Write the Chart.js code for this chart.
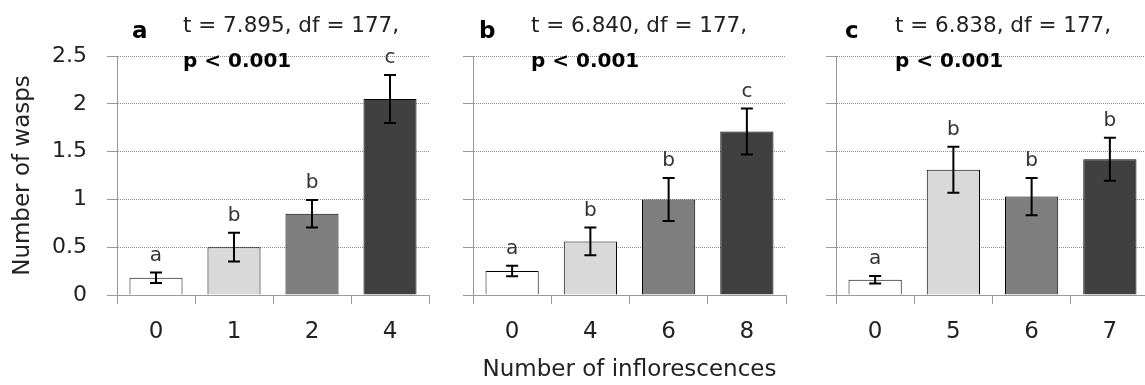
<!DOCTYPE html>
<html>
<head>
<meta charset="utf-8">
<script src="https://cdn.jsdelivr.net/npm/chart.js@4.4.1/dist/chart.umd.min.js"></script>
<style>
  html, body { margin: 0; padding: 0; background: #fff; overflow: hidden; }
  #wrap { position: relative; width: 1145px; height: 385px; overflow: hidden; }
  canvas { position: absolute; top: 0; }
</style>
</head>
<body>
<div id="wrap">
  <canvas id="pa" width="440" height="385" style="left:0px"></canvas>
  <canvas id="pb" width="357" height="385" style="left:440px"></canvas>
  <canvas id="pc" width="353" height="385" style="left:797px"></canvas>
</div>
<script>
// values
const catsA = ['0', '1', '2', '4'];
const meanA = [0.18, 0.50, 0.85, 2.05];
const errA = [0.055, 0.15, 0.145, 0.25];
const lettersA = ['a', 'b', 'b', 'c'];

const catsB = ['0', '4', '6', '8'];
const meanB = [0.25, 0.56, 1.00, 1.71];
const errB = [0.055, 0.145, 0.225, 0.24];
const lettersB = ['a', 'b', 'b', 'c'];

const catsC = ['0', '5', '6', '7'];
const meanC = [0.16, 1.31, 1.03, 1.42];
const errC = [0.04, 0.24, 0.195, 0.225];
const lettersC = ['a', 'b', 'b', 'b'];

const panelLabels = ['a', 'b', 'c'];
const tStats = ['t = 7.895, df = 177,', 't = 6.840, df = 177,', 't = 6.838, df = 177,'];
const pText = 'p < 0.001';
const yTicks = [0, 0.5, 1, 1.5, 2, 2.5];

const barColors = ['#ffffff', '#d9d9d9', '#7f7f7f', '#404040'];
const FONT = '"DejaVu Sans", sans-serif';

// error bars + significance letters + panel heading
const extras = {
  id: 'extras',
  afterDatasetsDraw(chart, args, opts) {
    const ctx = chart.ctx;
    const y = chart.scales.y;
    const meta = chart.getDatasetMeta(0);
    ctx.save();
    ctx.strokeStyle = '#000';
    ctx.lineWidth = 2;
    opts.means.forEach((m, i) => {
      const x = meta.data[i].x;
      const hi = y.getPixelForValue(m + opts.errs[i]);
      const lo = y.getPixelForValue(m - opts.errs[i]);
      ctx.beginPath();
      ctx.moveTo(x, hi); ctx.lineTo(x, lo);
      ctx.moveTo(x - 6, hi); ctx.lineTo(x + 6, hi);
      ctx.moveTo(x - 6, lo); ctx.lineTo(x + 6, lo);
      ctx.stroke();
      ctx.fillStyle = '#333';
      ctx.font = '20px ' + FONT;
      ctx.textAlign = 'center';
      ctx.textBaseline = 'middle';
      ctx.fillText(opts.letters[i], x, hi - 17);
    });
    ctx.textAlign = 'left';
    ctx.textBaseline = 'alphabetic';
    ctx.fillStyle = '#000';
    ctx.font = 'bold 23px ' + FONT;
    ctx.fillText(opts.label, opts.labelX, 38);
    ctx.fillStyle = '#222';
    ctx.font = '21.5px ' + FONT;
    ctx.fillText(opts.stat, opts.textX, 32);
    ctx.fillStyle = '#000';
    ctx.font = 'bold 20px ' + FONT;
    ctx.fillText(pText, opts.textX, 67);
    ctx.restore();
  }
};

function makePanel(id, idx, cats, means, errs, letters, lay) {
  new Chart(document.getElementById(id), {
    type: 'bar',
    data: {
      labels: cats,
      datasets: [{
        data: means,
        backgroundColor: barColors,
        borderColor: '#000',
        borderWidth: 1,
        barPercentage: 0.68,
        categoryPercentage: 1
      }]
    },
    options: {
      responsive: false,
      animation: false,
      devicePixelRatio: 1,
      layout: { padding: { top: 56, right: lay.padRight, left: 0, bottom: 0 } },
      plugins: {
        legend: { display: false },
        tooltip: { enabled: false },
        extras: {
          means: means, errs: errs, letters: letters,
          label: panelLabels[idx], stat: tStats[idx],
          labelX: lay.labelX, textX: lay.textX
        }
      },
      scales: {
        x: {
          grid: { drawOnChartArea: false, tickLength: 9, color: '#999', tickColor: '#999' },
          border: { color: '#999' },
          ticks: { color: '#222', font: { family: FONT, size: 23 }, padding: 14 },
          title: {
            display: lay.xTitle,
            text: 'Number of inflorescences',
            color: '#222',
            font: { family: FONT, size: 23 },
            padding: { top: 0, bottom: 1 }
          },
          afterFit(s) { s.height = 90; }
        },
        y: {
          min: 0, max: 2.5,
          afterBuildTicks(s) { s.ticks = yTicks.map(v => ({ value: v })); },
          grid: { color: '#8c8c8c', tickLength: 10, tickColor: '#999', tickBorderDash: [] },
          border: { color: '#999', dash: [1, 1] },
          ticks: {
            display: lay.yLabels,
            color: '#222',
            padding: 20,
            font: { family: FONT, size: 22 },
            callback: v => String(v)
          },
          title: {
            display: lay.yLabels,
            text: 'Number of wasps',
            color: '#222',
            font: { family: FONT, size: 23 },
            padding: { top: 9, bottom: 0 }
          },
          afterFit(s) { s.width = lay.axisW; }
        }
      }
    },
    plugins: [extras]
  });
}

makePanel('pa', 0, catsA, meanA, errA, lettersA,
  { axisW: 117, padRight: 11, labelX: 132, textX: 183, yLabels: true, xTitle: false });
makePanel('pb', 1, catsB, meanB, errB, lettersB,
  { axisW: 33, padRight: 11, labelX: 39, textX: 91, yLabels: false, xTitle: true });
makePanel('pc', 2, catsC, meanC, errC, lettersC,
  { axisW: 39, padRight: 1, labelX: 48, textX: 98, yLabels: false, xTitle: false });
</script>
</body>
</html>
